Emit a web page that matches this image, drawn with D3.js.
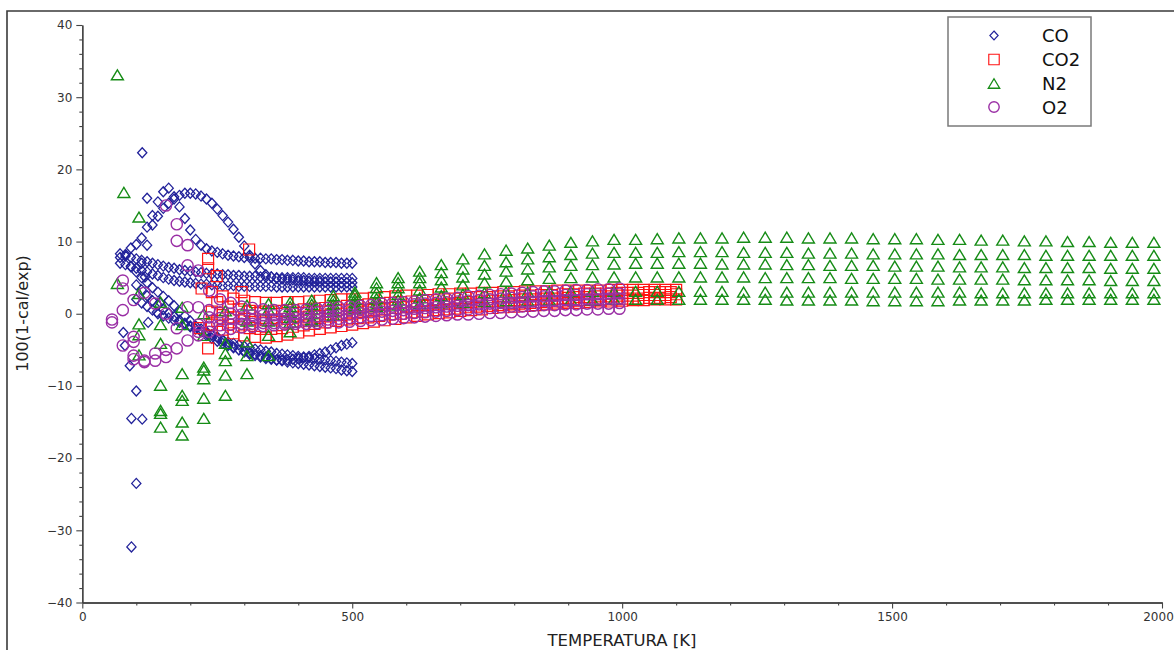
<!DOCTYPE html>
<html lang="en">
<head>
<meta charset="utf-8">
<script src="https://d3js.org/d3.v7.min.js"></script>
<style>
  body { margin: 0; background: #fff; }
  svg text { font-family: "DejaVu Sans", sans-serif; }
</style>
</head>
<body>
<div id="chart"></div>
<script>
// ---- axis ticks ----
var xTicks = [0, 500, 1000, 1500, 2000];
var yTicks = [-40, -30, -20, -10, 0, 10, 20, 30, 40];
var seriesNames = ["CO", "CO2", "N2", "O2"];

// ---- CO (diamonds) ----
var coT = [70,80,90,100,110,120,130,140,150,160,170,180,190,200,210,220,230,240,250,260,270,280,290,300,310,320,330,340,350,360,370,380,390,400,410,420,430,440,450,460,470,480,490,500];
var coP1 = [null,null,null,null,7.0,9.5,12.3,13.5,14.6,15.3,15.9,16.4,16.7,16.7,16.6,16.3,15.9,15.3,14.5,13.6,12.7,11.7,10.6,9.4,8.1,6.9,6.0,5.4,5.1,4.9,4.8,4.7,4.7,4.6,4.6,4.5,4.5,4.5,4.4,4.4,4.4,4.3,4.3,4.3];
var coP2 = [7.8,8.2,9.1,9.6,10.5,12.0,13.6,15.5,16.9,17.4,16.2,14.8,13.2,11.6,10.3,9.5,9.0,8.7,8.5,8.3,8.1,8.0,7.9,7.8,7.8,7.7,7.7,7.6,7.6,7.5,7.5,7.4,7.4,7.3,7.3,7.2,7.2,7.2,7.1,7.1,7.1,7.0,7.0,7.0];
var coP3 = [8.3,8.0,7.8,7.6,7.4,7.2,7.0,6.8,6.6,6.4,6.3,6.1,6.0,5.9,5.8,5.7,5.6,5.5,5.5,5.4,5.4,5.3,5.3,5.2,5.2,5.2,5.1,5.1,5.1,5.0,5.0,5.0,5.0,5.0,5.0,4.9,4.9,4.9,4.9,4.9,4.9,4.9,4.9,4.9];
var coP4 = [7.0,6.8,6.6,6.3,6.0,5.8,5.5,5.3,5.0,4.8,4.6,4.5,4.4,4.3,4.2,4.1,4.1,4.0,4.0,3.9,3.9,3.9,3.8,3.8,3.8,3.8,3.8,3.8,3.8,3.7,3.7,3.7,3.7,3.7,3.7,3.7,3.7,3.7,3.7,3.7,3.7,3.7,3.7,3.7];
var coP5 = [null,null,6.5,5.8,5.0,4.3,3.6,3.0,2.4,1.8,1.1,0.3,-0.3,-1.0,-1.7,-2.1,-2.5,-2.9,-3.2,-3.7,-4.2,-4.6,-5.0,-5.3,-5.6,-5.8,-6.0,-6.2,-6.3,-6.4,-6.4,-6.4,-6.3,-6.2,-6.1,-5.9,-5.7,-5.5,-5.3,-5.0,-4.7,-4.4,-4.2,-4.0];
var coP6 = [null,null,null,4.0,3.3,2.5,1.8,1.2,0.6,0.1,-0.4,-0.9,-1.3,-1.7,-2.1,-2.5,-3.0,-3.4,-3.8,-4.1,-4.4,-4.7,-5.0,-5.2,-5.4,-5.6,-5.8,-6.0,-6.2,-6.4,-6.5,-6.7,-6.8,-6.9,-7.0,-7.1,-7.2,-7.3,-7.4,-7.5,-7.6,-7.8,-7.9,-8.0];
var coP7 = [null,null,null,2.0,1.5,1.0,0.5,0.0,-0.3,-0.6,-0.9,-1.2,-1.5,-1.8,-2.1,-2.4,-2.7,-3.0,-3.3,-3.6,-3.9,-4.1,-4.3,-4.5,-4.7,-4.9,-5.0,-5.2,-5.3,-5.5,-5.6,-5.7,-5.8,-5.9,-6.0,-6.1,-6.2,-6.3,-6.4,-6.5,-6.6,-6.7,-6.8,-6.9];
var coExtraT = [111, 120, 91, 100, 91, 111, 100, 88, 79, 76, 116, 122, 138, 144];
var coExtraV = [22.3, 16.0, -32.3, -23.5, -14.5, -14.6, -10.7, -7.2, -4.4, -2.6, 5.1, -1.2, 0.2, 1.6];

// ---- CO2 (squares) ----
var co2TA = [240,260,280,300,320,340,360,380,400,420,440,460,480,500,520,540,560,580,600,620,640,660,680,700,720,740,760,780,800,820,840,860,880,900,920,940,960,980,1000,1020,1040,1060,1080,1100];
var co2TB = [250,270,290,310,330,350,370,390,410,430,450,470,490,510,530,550,570,590,610,630,650,670,690,710,730,750,770,790,810,830,850,870,890,910,930,950,970,990,1010,1030,1050,1070,1090];
var co2R1 = [3.0,2.4,2.1,1.8,1.6,1.5,1.5,1.6,1.6,1.7,1.8,1.9,2.0,2.0,2.1,2.2,2.3,2.4,2.5,2.5,2.6,2.7,2.7,2.8,2.8,2.9,2.9,3.0,3.0,3.1,3.1,3.1,3.2,3.2,3.2,3.2,3.2,3.3,3.3,3.3,3.3,3.3,3.3,3.3];
var co2R2 = [1.6,1.0,0.6,0.4,0.3,0.3,0.4,0.5,0.6,0.7,0.8,0.9,1.1,1.2,1.3,1.4,1.5,1.6,1.7,1.8,1.9,2.0,2.1,2.2,2.3,2.3,2.4,2.4,2.5,2.5,2.6,2.6,2.7,2.7,2.8,2.8,2.8,2.9,2.9,2.9,3.0,3.0,3.0];
var co2R3 = [0.3,-0.2,-0.5,-0.7,-0.8,-0.9,-0.8,-0.7,-0.5,-0.4,-0.3,-0.1,0.0,0.2,0.3,0.5,0.6,0.8,0.9,1.0,1.2,1.3,1.4,1.5,1.6,1.7,1.8,1.8,1.9,2.0,2.0,2.1,2.1,2.2,2.3,2.3,2.4,2.4,2.5,2.5,2.6,2.6,2.6,2.7];
var co2R4 = [-1.0,-1.5,-1.8,-2.0,-2.1,-2.1,-2.0,-1.8,-1.6,-1.4,-1.2,-1.0,-0.8,-0.6,-0.5,-0.3,-0.1,0.0,0.2,0.3,0.5,0.6,0.7,0.9,1.0,1.1,1.2,1.3,1.4,1.5,1.6,1.7,1.7,1.8,1.9,1.9,2.0,2.0,2.1,2.1,2.2,2.2,2.3];
var co2R5 = [-1.5,-2.2,-2.7,-3.0,-3.2,-3.3,-3.1,-2.9,-2.6,-2.3,-2.1,-1.9,-1.7,-1.5,-1.3,-1.1,-0.9,-0.7,-0.5,-0.3,-0.1,0.1,0.2,0.4,0.5,0.6,0.8,0.9,1.0,1.1,1.2,1.3,1.4,1.5,1.5,1.6,1.7,1.7,1.8,1.9,1.9,2.0,2.0,2.0];
var co2ExtraT = [221, 233, 233, 249, 309, 233, 295, 218];
var co2ExtraV = [3.5, 7.6, 6.3, 5.2, 8.9, -4.8, 3.0, -2.0];

// ---- N2 (triangles) ----
var n2T = [105,145,185,225,265,305,345,385,425,465,505,545,585,625,665,705,745,785,825,865,905,945,985,1025,1065,1105,1145,1185,1225,1265,1305,1345,1385,1425,1465,1505,1545,1585,1625,1665,1705,1745,1785,1825,1865,1905,1945,1985];
var n2R1 = [13.4,1.6,0.9,0.0,0.4,1.2,1.4,1.6,1.9,2.5,3.0,4.3,5.0,5.9,6.8,7.6,8.3,8.8,9.1,9.5,9.9,10.1,10.3,10.3,10.4,10.5,10.5,10.5,10.6,10.6,10.6,10.5,10.5,10.5,10.4,10.4,10.4,10.3,10.3,10.2,10.2,10.1,10.1,10.0,10.0,9.9,9.9,9.9];
var n2R2 = [2.8,-1.5,-1.5,-3.0,-4.1,-1.0,0.5,1.0,1.3,1.9,2.6,3.6,4.3,5.0,5.7,6.2,6.7,7.2,7.6,7.9,8.2,8.4,8.5,8.5,8.5,8.6,8.6,8.6,8.5,8.5,8.5,8.4,8.4,8.4,8.3,8.3,8.3,8.3,8.2,8.2,8.2,8.2,8.1,8.1,8.1,8.1,8.1,8.1];
var n2R3 = [-1.4,-4.1,-8.3,-7.4,-5.5,-3.9,-1.0,0.2,0.7,1.3,2.0,2.9,3.6,4.3,4.7,5.1,5.5,5.9,6.2,6.5,6.7,6.8,6.9,7.0,7.0,7.0,7.0,6.9,6.9,6.9,6.8,6.8,6.7,6.7,6.7,6.6,6.6,6.6,6.5,6.5,6.5,6.4,6.4,6.4,6.4,6.3,6.3,6.3];
var n2R4 = [-2.9,-9.9,-11.3,-7.8,-6.5,-5.8,-3.0,-1.2,0.0,0.8,1.5,2.1,2.7,3.3,3.7,4.0,4.3,4.5,4.7,4.9,5.0,5.1,5.1,5.1,5.1,5.1,5.1,5.1,5.1,5.0,5.0,5.0,5.0,4.9,4.9,4.9,4.9,4.8,4.8,4.8,4.8,4.7,4.7,4.7,4.7,4.6,4.6,4.6];
var n2R5 = [-5.7,-13.4,-12.0,-9.0,-8.5,-8.3,-5.8,-2.5,-1.0,0.3,1.1,1.5,1.9,2.2,2.5,2.7,2.9,3.0,3.0,3.1,3.1,3.1,3.1,3.1,3.1,3.1,3.1,3.1,3.0,3.0,3.0,3.0,3.0,3.0,3.0,3.0,3.0,3.0,3.0,2.9,2.9,2.9,2.9,2.9,2.9,2.9,2.9,2.9];
var n2R6 = [null,-15.7,-16.8,-14.5,-11.3,null,null,-0.5,-0.8,-0.2,0.7,1.0,1.2,1.4,1.5,1.6,1.7,1.8,1.8,1.9,1.9,1.9,2.0,2.0,2.0,2.0,2.0,2.0,2.0,2.0,1.9,1.9,1.9,1.9,1.8,1.8,1.8,1.8,1.9,1.9,1.9,1.9,2.0,2.0,2.0,2.0,2.0,2.0];
var n2ExtraT = [65, 65, 77, 145, 185, 225];
var n2ExtraV = [33.1, 4.2, 16.8, -13.8, -15.0, -11.7];

// ---- O2 (circles) ----
var o2T = [55,75,95,115,135,155,175,195,215,235,255,275,295,315,335,355,375,395,415,435,455,475,495,515,535,555,575,595,615,635,655,675,695,715,735,755,775,795,815,835,855,875,895,915,935,955,975,995];
var o2R1 = [-1.2,4.6,1.9,2.9,1.4,15.0,12.4,9.5,6.0,3.2,2.0,1.5,1.0,0.8,0.6,0.5,0.5,0.5,0.6,0.7,0.8,0.9,1.0,1.1,1.2,1.4,1.5,1.6,1.7,1.9,2.0,2.1,2.2,2.4,2.5,2.6,2.7,2.8,2.9,3.0,3.1,3.1,3.2,3.3,3.3,3.4,3.4,3.5];
var o2R2 = [-0.8,3.5,-3.2,-6.7,-5.5,-5.0,10.1,6.7,0.9,0.5,0.2,0.0,-0.1,-0.2,-0.2,-0.2,-0.1,0.0,0.1,0.2,0.3,0.4,0.5,0.7,0.8,0.9,1.0,1.1,1.3,1.4,1.5,1.6,1.7,1.8,1.9,2.0,2.1,2.2,2.3,2.4,2.4,2.5,2.6,2.6,2.7,2.7,2.8,2.8];
var o2R3 = [null,0.5,-3.9,-6.5,-6.5,-6.0,-4.8,-3.7,-1.5,-0.5,-0.6,-0.7,-0.8,-0.8,-0.8,-0.8,-0.7,-0.6,-0.5,-0.4,-0.3,-0.2,-0.1,0.1,0.2,0.3,0.4,0.5,0.7,0.8,0.9,1.0,1.1,1.2,1.3,1.4,1.5,1.5,1.6,1.7,1.8,1.8,1.9,1.9,2.0,2.0,2.1,2.1];
var o2R4 = [null,-4.4,-5.8,null,null,0.0,-2.0,0.9,-2.5,-1.8,-1.6,-1.5,-1.4,-1.4,-1.3,-1.3,-1.2,-1.1,-1.0,-0.9,-0.8,-0.7,-0.6,-0.5,-0.3,-0.2,-0.1,0.0,0.1,0.2,0.3,0.4,0.5,0.6,0.7,0.8,0.9,1.0,1.0,1.1,1.2,1.2,1.3,1.3,1.4,1.4,1.4,1.5];
var o2R5 = [null,null,-6.3,null,null,null,null,null,-3.0,-2.5,-2.3,-2.1,-1.9,-1.8,-1.7,-1.6,-1.5,-1.4,-1.4,-1.3,-1.2,-1.2,-1.1,-1.0,-0.9,-0.8,-0.7,-0.6,-0.5,-0.4,-0.3,-0.2,-0.1,-0.1,0.0,0.1,0.1,0.2,0.3,0.3,0.4,0.4,0.5,0.5,0.6,0.6,0.7,0.7];

// ---- build point lists ----
function rows(temps, curves) {
    var pts = [];
    curves.forEach(function(c) {
        c.forEach(function(v, i) { if (v !== null) pts.push({t: temps[i], v: v}); });
    });
    return pts;
}
function extras(ts, vs) { return ts.map(function(t, i) { return {t: t, v: vs[i]}; }); }

var coPts = rows(coT, [coP1, coP2, coP3, coP4, coP5, coP6, coP7]).concat(extras(coExtraT, coExtraV));
var co2Pts = rows(co2TA, [co2R1, co2R3, co2R5]).concat(rows(co2TB, [co2R2, co2R4])).concat(extras(co2ExtraT, co2ExtraV));
var n2Pts = rows(n2T, [n2R1, n2R2, n2R3, n2R4, n2R5, n2R6]).concat(extras(n2ExtraT, n2ExtraV));
var o2Pts = rows(o2T, [o2R1, o2R2, o2R3, o2R4, o2R5]);

// ---- layout ----
var width = 1174, height = 650;
var xScale = d3.scaleLinear().domain([0, 2000]).range([82.3, 1162]);
var yScale = d3.scaleLinear().domain([-40, 40]).range([602.5, 25]);

var svg = d3.select("#chart").append("svg")
    .attr("width", width).attr("height", height);

// window frame edge (top / left)
svg.append("path")
    .attr("d", "M7," + height + "V11H" + width)
    .attr("fill", "none").attr("stroke", "#3a3a3a").attr("stroke-width", 1.6);

var styles = {
    CO:  {color: "#22229a", shape: "M0,-5L4.6,0L0,5L-4.6,0Z", sw: 1.3},
    CO2: {color: "#ff1414", shape: "M-5.5,-5.5H5.5V5.5H-5.5Z", sw: 1.2},
    N2:  {color: "#168c16", shape: "M0,-5L6,5L-6,5Z", sw: 1.4},
    O2:  {color: "#9a2fa5", shape: null, sw: 1.4}
};

function drawSeries(pts, st) {
    var g = svg.append("g").attr("fill", "none").attr("stroke", st.color).attr("stroke-width", st.sw);
    if (st.shape) {
        g.selectAll("path").data(pts).enter().append("path")
            .attr("d", st.shape)
            .attr("transform", function(d) { return "translate(" + xScale(d.t) + "," + yScale(d.v) + ")"; });
    } else {
        g.selectAll("circle").data(pts).enter().append("circle")
            .attr("r", 5.6)
            .attr("cx", function(d) { return xScale(d.t); })
            .attr("cy", function(d) { return yScale(d.v); });
    }
}
drawSeries(coPts, styles.CO);
drawSeries(co2Pts, styles.CO2);
drawSeries(n2Pts, styles.N2);
drawSeries(o2Pts, styles.O2);

// ---- axes ----
var axisColor = "#444";
function styleAxis(g) {
    g.select(".domain").attr("stroke", axisColor).attr("stroke-width", 1.3);
    g.selectAll(".tick line").attr("stroke", axisColor).attr("stroke-width", 1.1);
    g.selectAll(".tick text").attr("fill", "#333").style("font-size", "12px")
        .style("font-family", "'DejaVu Sans', sans-serif");
}
var xMinor = d3.range(0, 2001, 100).filter(function(d) { return d % 500 !== 0; });
var yMinor = d3.range(-40, 41, 2).filter(function(d) { return d % 10 !== 0; });
var fmt = d3.format("d");

svg.append("g").attr("transform", "translate(0,602.5)")
    .call(d3.axisBottom(xScale).tickValues(xMinor).tickSize(3).tickSizeOuter(0).tickFormat(""))
    .call(styleAxis);
var xAxisG = svg.append("g").attr("transform", "translate(0,602.5)")
    .call(d3.axisBottom(xScale).tickValues(xTicks).tickSize(6).tickSizeOuter(0).tickPadding(4).tickFormat(fmt))
    .call(styleAxis);
// keep the last label inside the window
xAxisG.selectAll(".tick text").filter(function(d) { return d === 2000; }).attr("dx", -4);
svg.append("g").attr("transform", "translate(82.3,0)")
    .call(d3.axisLeft(yScale).tickValues(yMinor).tickSize(3).tickSizeOuter(0).tickFormat(""))
    .call(styleAxis);
svg.append("g").attr("transform", "translate(82.3,0)")
    .call(d3.axisLeft(yScale).tickValues(yTicks).tickSize(6).tickSizeOuter(0).tickPadding(4).tickFormat(fmt))
    .call(styleAxis);

// axis titles
svg.append("text")
    .attr("x", 622).attr("y", 646)
    .attr("text-anchor", "middle")
    .style("font-size", "16.5px").attr("fill", "#222")
    .text("TEMPERATURA [K]");
svg.append("text")
    .attr("transform", "translate(28,313.5) rotate(-90)")
    .attr("text-anchor", "middle")
    .style("font-size", "16px").attr("fill", "#222")
    .text("100(1-cal/exp)");

// ---- legend ----
var legend = svg.append("g");
legend.append("rect")
    .attr("x", 948).attr("y", 17).attr("width", 143).attr("height", 109)
    .attr("fill", "#fff").attr("stroke", "#7a7a7a").attr("stroke-width", 1.5);
var rowY = [35.5, 59.5, 83.5, 107];
seriesNames.forEach(function(name, i) {
    var st = styles[name];
    var g = legend.append("g").attr("transform", "translate(994," + rowY[i] + ")");
    if (st.shape) {
        g.append("path").attr("d", st.shape).attr("fill", "none")
            .attr("stroke", st.color).attr("stroke-width", st.sw)
            .attr("transform", name === "CO" ? "scale(0.9)" : "scale(0.95)");
    } else {
        g.append("circle").attr("r", 5.2).attr("fill", "none")
            .attr("stroke", st.color).attr("stroke-width", st.sw);
    }
    legend.append("text")
        .attr("x", 1042).attr("y", rowY[i] + 6.5)
        .style("font-size", "18px").attr("fill", "#111")
        .text(name);
});
</script>
</body>
</html>
